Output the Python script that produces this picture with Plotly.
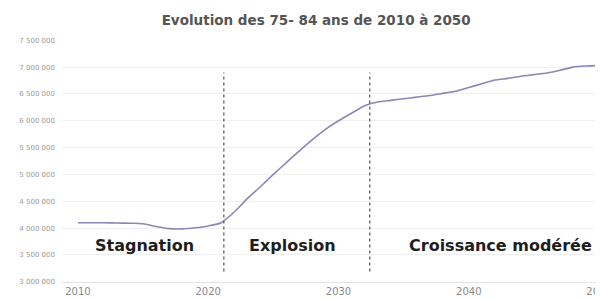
import plotly.graph_objects as go

years = list(range(2010, 2051))
population = [
    4100000, 4100000, 4100000, 4095000, 4090000, 4080000, 4030000, 3990000, 3985000, 4005000,
    4040000, 4100000, 4300000, 4550000, 4770000, 5000000, 5220000, 5440000, 5650000, 5840000,
    6000000, 6140000, 6280000, 6350000, 6380000, 6410000, 6440000, 6470000, 6510000, 6550000,
    6620000, 6690000, 6760000, 6790000, 6830000, 6860000, 6890000, 6940000, 7000000, 7020000,
    7030000,
]
y_ticks = [3000000, 3500000, 4000000, 4500000, 5000000, 5500000, 6000000, 6500000, 7000000, 7500000]
x_ticks = [2010, 2020, 2030, 2040, 2050]
period_bounds = [2021.2, 2032.4]
period_labels = ["Stagnation", "Explosion", "Croissance modérée"]
period_label_x = [2015.1, 2026.5, 2042.4]
period_label_y = 3670000
divider_y = [3190000, 6900000]

fig = go.Figure()
fig.add_trace(go.Scatter(
    x=years, y=population, mode="lines",
    line=dict(color="#8888b8", width=1.6, shape="spline", smoothing=0.6),
    hoverinfo="skip",
))

for xb in period_bounds:
    fig.add_shape(type="line", xref="x", yref="y", x0=xb, x1=xb,
                  y0=divider_y[0], y1=divider_y[1],
                  line=dict(color="#555555", width=1.2, dash="dot"))

for lab, lx in zip(period_labels, period_label_x):
    fig.add_annotation(x=lx, y=period_label_y, xref="x", yref="y", text=lab,
                       showarrow=False,
                       font=dict(family="DejaVu Sans", size=16, color="#1e1e1e", weight="bold"))

fig.update_layout(
    width=603, height=299,
    margin=dict(l=54, r=8, t=32, b=25, autoexpand=False),
    paper_bgcolor="white", plot_bgcolor="white",
    showlegend=False,
    separators=", ",
    title=dict(text="<b>Evolution des 75- 84 ans de 2010 à 2050</b>",
               x=0.511, xanchor="center", y=0.96, yanchor="middle",
               font=dict(family="DejaVu Sans", size=13.5, color="#555555")),
)
fig.update_xaxes(range=[2008.78, 2050.3], tickvals=x_ticks, showgrid=False,
                 showline=True, linecolor="#e4e4e4", linewidth=1, zeroline=False,
                 ticks="", ticklabeloverflow="allow", automargin=False,
                 tickfont=dict(family="DejaVu Sans", size=10, color="#8a8a8a"))
fig.update_yaxes(range=[2995000, 7505000], tickvals=y_ticks, tickformat=",d",
                 showgrid=True, gridcolor="#efefef", gridwidth=1, zeroline=False,
                 ticks="", ticklabelstandoff=6, automargin=False,
                 tickfont=dict(family="DejaVu Sans", size=7, color="#9a9a9a"))

fig.write_html("out.html")
